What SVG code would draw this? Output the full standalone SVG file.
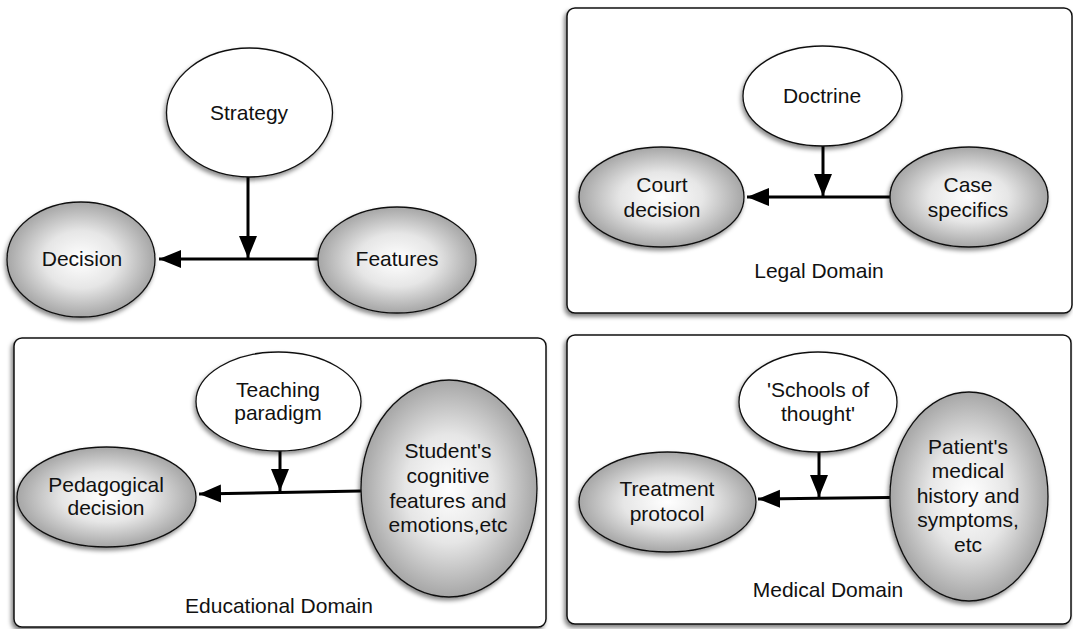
<svg xmlns="http://www.w3.org/2000/svg" width="1073" height="629" viewBox="0 0 1073 629">
<style>
text{font-family:"Liberation Sans",Arial,sans-serif;font-size:21px;fill:#111;text-anchor:middle}
.w{fill:#fff;stroke:#111;stroke-width:1.3;filter:url(#sh)}
.g{fill:url(#rg);stroke:#111;stroke-width:1.3;filter:url(#sh)}
.box{fill:#fff;stroke:#111;stroke-width:1.5;filter:url(#bsh)}
.c{fill:none;stroke:#000;stroke-width:3;marker-end:url(#ah)}
.c0{fill:none;stroke:#000;stroke-width:3}
</style>
<defs>
<radialGradient id="rg" cx="50%" cy="50%" r="50%">
<stop offset="0" stop-color="#ffffff"/>
<stop offset="0.5" stop-color="#e6e6e6"/>
<stop offset="1" stop-color="#a6a6a6"/>
</radialGradient>
<filter id="sh" x="-20%" y="-20%" width="140%" height="150%">
<feDropShadow dx="-1.5" dy="3" stdDeviation="2" flood-color="#000" flood-opacity="0.45"/>
</filter>
<filter id="bsh" x="-5%" y="-5%" width="110%" height="115%">
<feDropShadow dx="-2" dy="3" stdDeviation="2" flood-color="#000" flood-opacity="0.5"/>
</filter>
<marker id="ah" markerUnits="userSpaceOnUse" markerWidth="24" markerHeight="20" refX="22" refY="9" orient="auto">
<path d="M0,0 L22,9 L0,18 z" fill="#000"/>
</marker>
</defs>

<g id="legal-box"><rect class="box" x="567" y="8" width="505" height="305" rx="8"/><text x="819" y="278">Legal Domain</text></g>
<g id="edu-box"><rect class="box" x="14" y="338" width="532" height="289" rx="8"/><text x="279" y="613">Educational Domain</text></g>
<g id="med-box"><rect class="box" x="567" y="335" width="504" height="289" rx="8"/><text x="828" y="597">Medical Domain</text></g>

<g id="connectors">
<line class="c0" x1="318" y1="259" x2="249" y2="259"/>
<line class="c" x1="249" y1="259" x2="159" y2="259"/>
<line class="c" x1="248" y1="177" x2="248" y2="258"/>
<line class="c0" x1="890" y1="197" x2="823" y2="197"/>
<line class="c" x1="823" y1="197" x2="747" y2="197"/>
<line class="c" x1="823" y1="146" x2="823" y2="196"/>
<line class="c0" x1="361" y1="491" x2="280" y2="492.5"/>
<line class="c" x1="280" y1="492.5" x2="199" y2="494"/>
<line class="c" x1="280" y1="451" x2="280" y2="491"/>
<line class="c0" x1="890" y1="497.5" x2="819" y2="498.3"/>
<line class="c" x1="819" y1="498.3" x2="758" y2="499"/>
<line class="c" x1="819" y1="452" x2="819" y2="497"/>
</g>

<g id="strategy"><ellipse class="w" cx="249.5" cy="112.5" rx="83" ry="64.5"/><text x="249" y="120">Strategy</text></g>
<g id="decision"><ellipse class="g" cx="81" cy="259.5" rx="74" ry="57.5"/><text x="82" y="266">Decision</text></g>
<g id="features"><ellipse class="g" cx="397" cy="260" rx="79" ry="53"/><text x="397" y="266">Features</text></g>

<g id="doctrine"><ellipse class="w" cx="822.5" cy="96" rx="79.5" ry="50"/><text x="822" y="103">Doctrine</text></g>
<g id="court"><ellipse class="g" cx="661.5" cy="197" rx="82.5" ry="50"/><text x="662" y="192">Court</text><text x="662" y="217">decision</text></g>
<g id="case"><ellipse class="g" cx="969" cy="197" rx="79" ry="50"/><text x="968" y="192">Case</text><text x="968" y="217">specifics</text></g>

<g id="teaching"><ellipse class="w" cx="278.5" cy="401.5" rx="82.5" ry="49.5"/><text x="278" y="397">Teaching</text><text x="278" y="420">paradigm</text></g>
<g id="pedagogical"><ellipse class="g" cx="106.5" cy="497" rx="89.5" ry="50"/><text x="106" y="492">Pedagogical</text><text x="106" y="515">decision</text></g>
<g id="student"><ellipse class="g" cx="449" cy="488.5" rx="88" ry="108.5"/><text x="448" y="458">Student's</text><text x="448" y="483">cognitive</text><text x="448" y="508">features and</text><text x="448" y="532">emotions,etc</text></g>

<g id="schools"><ellipse class="w" cx="818" cy="402" rx="79" ry="50"/><text x="818" y="397">'Schools of</text><text x="818" y="421">thought'</text></g>
<g id="treatment"><ellipse class="g" cx="667.5" cy="502" rx="88.5" ry="50"/><text x="667" y="496">Treatment</text><text x="667" y="521">protocol</text></g>
<g id="patient"><ellipse class="g" cx="969" cy="496.5" rx="79" ry="104.5"/><text x="968" y="454">Patient's</text><text x="968" y="478">medical</text><text x="968" y="503">history and</text><text x="968" y="527">symptoms,</text><text x="968" y="552">etc</text></g>
</svg>
